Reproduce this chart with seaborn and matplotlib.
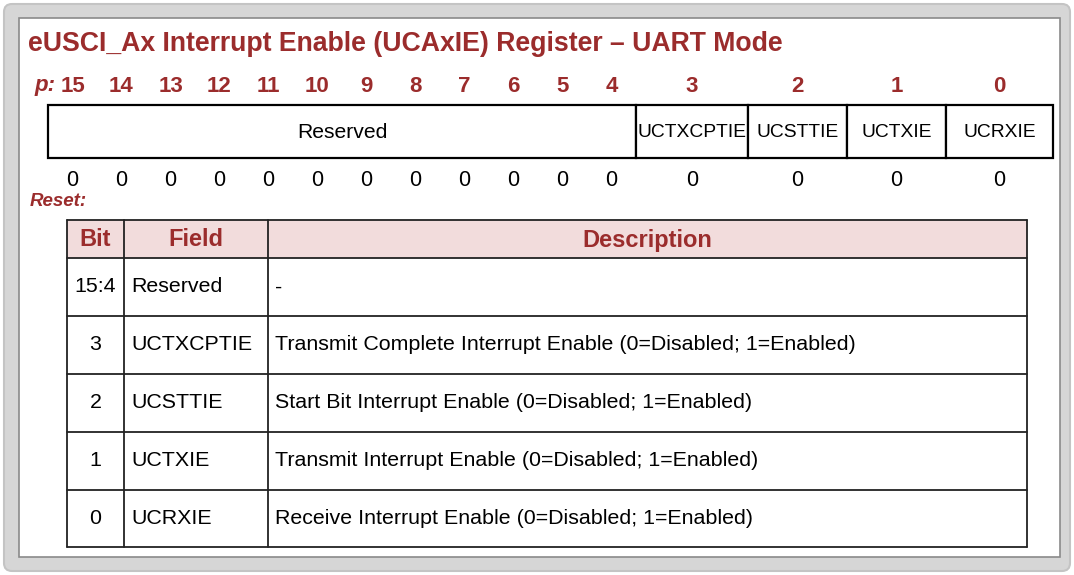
import numpy as np
import matplotlib
matplotlib.use("Agg")
import matplotlib.pyplot as plt
from matplotlib.patches import Rectangle, FancyBboxPatch
import seaborn as sns


# =========================
# 1. data
# =========================
title = "eUSCI_Ax Interrupt Enable (UCAxIE) Register \u2013 UART Mode"

bit_labels = ["15", "14", "13", "12", "11", "10", "9", "8", "7", "6", "5", "4",
              "3", "2", "1", "0"]
reset_values = [0, 0, 0, 0, 0, 0, 0, 0, 0, 0, 0, 0, 0, 0, 0, 0]

# register fields, high bit to low bit, with how many bits each spans
field_names = ["Reserved", "UCTXCPTIE", "UCSTTIE", "UCTXIE", "UCRXIE"]
field_bits = [12, 1, 1, 1, 1]

table_header = ["Bit", "Field", "Description"]
table_bits = ["15:4", "3", "2", "1", "0"]
table_fields = ["Reserved", "UCTXCPTIE", "UCSTTIE", "UCTXIE", "UCRXIE"]
table_desc = [
    "-",
    "Transmit Complete Interrupt Enable (0=Disabled; 1=Enabled)",
    "Start Bit Interrupt Enable (0=Disabled; 1=Enabled)",
    "Transmit Interrupt Enable (0=Disabled; 1=Enabled)",
    "Receive Interrupt Enable (0=Disabled; 1=Enabled)",
]

# =========================
# 2. layout (pixels)
# =========================
W, H = 1074, 575
RED = "#9b2c2c"
HEADER_FILL = "#f2dcdc"

reg_left, reg_top, reg_bottom = 48, 105, 158
reserved_bit_w = 49.0
# edges of the one-bit boxes on the right
single_edges = [636, 748, 847, 946, 1053]

tab_left, tab_right = 67, 1027
tab_cols = [67, 124, 268, 1027]
tab_rows = [220, 258, 316, 374, 432, 490, 547]

sns.set_theme(style="white")
plt.rcParams["font.family"] = ["Liberation Sans", "DejaVu Sans"]

fig = plt.figure(figsize=(W / 100, H / 100), dpi=100)
ax = fig.add_axes([0, 0, 1, 1])
ax.set_xlim(0, W)
ax.set_ylim(H, 0)
ax.axis("off")

# outer frame
ax.add_patch(FancyBboxPatch((4, 4), W - 8, H - 8, boxstyle="round,pad=0,rounding_size=8",
                            fc="#d6d6d6", ec="#c4c4c4", lw=1.5))
ax.add_patch(Rectangle((19, 18), 1041, 539, fc="white", ec="#8a8a8a", lw=1.2))

# title
ax.text(28, 44, title, color=RED, fontsize=19.2, fontweight="bold",
        ha="left", va="center")

# bit centres
centres = []
x = reg_left
for n in range(field_bits[0]):
    centres.append(x + reserved_bit_w * (n + 0.5))
for a, b in zip(single_edges[:-1], single_edges[1:]):
    centres.append((a + b) / 2)

ax.text(34, 86, "p:", color=RED, fontsize=16, fontweight="bold",
        fontstyle="italic", ha="left", va="center")
for cx, lab in zip(centres, bit_labels):
    ax.text(cx, 86, lab, color=RED, fontsize=16, fontweight="bold",
            ha="center", va="center")

# register boxes
edges = [reg_left] + single_edges
for i, name in enumerate(field_names):
    a, b = edges[i], edges[i + 1]
    ax.add_patch(Rectangle((a, reg_top), b - a, reg_bottom - reg_top,
                           fc="white", ec="black", lw=1.6))
    fs = 15.2 if field_bits[i] > 1 else 13.9
    ax.text((a + b) / 2, (reg_top + reg_bottom) / 2 + 1, name, fontsize=fs,
            color="black", ha="center", va="center")

# reset values
for cx, v in zip(centres, reset_values):
    ax.text(cx, 180, str(v), fontsize=15.5, color="black", ha="center", va="center")
ax.text(30, 201, "Reset:", color=RED, fontsize=13.5, fontweight="bold",
        fontstyle="italic", ha="left", va="center")

# =========================
# 3. field table
# =========================
ax.add_patch(Rectangle((tab_left, tab_rows[0]), tab_right - tab_left,
                       tab_rows[1] - tab_rows[0], fc=HEADER_FILL, ec="none"))
for y in tab_rows:
    ax.plot([tab_left, tab_right], [y, y], color="#222222", lw=1.3)
for xc in tab_cols:
    ax.plot([xc, xc], [tab_rows[0], tab_rows[-1]], color="#222222", lw=1.3)

hy = (tab_rows[0] + tab_rows[1]) / 2
for i, head in enumerate(table_header):
    ax.text((tab_cols[i] + tab_cols[i + 1]) / 2, hy + 1, head, color=RED,
            fontsize=17, fontweight="bold", ha="center", va="center")

for r in range(len(table_bits)):
    cy = (tab_rows[r + 1] + tab_rows[r + 2]) / 2
    ax.text((tab_cols[0] + tab_cols[1]) / 2, cy, table_bits[r], fontsize=15.4,
            color="black", ha="center", va="center")
    ax.text(tab_cols[1] + 7, cy, table_fields[r], fontsize=15.4,
            color="black", ha="left", va="center")
    ax.text(tab_cols[2] + 7, cy, table_desc[r], fontsize=15.4,
            color="black", ha="left", va="center")

fig.savefig("out.png", dpi=100, facecolor="white")
